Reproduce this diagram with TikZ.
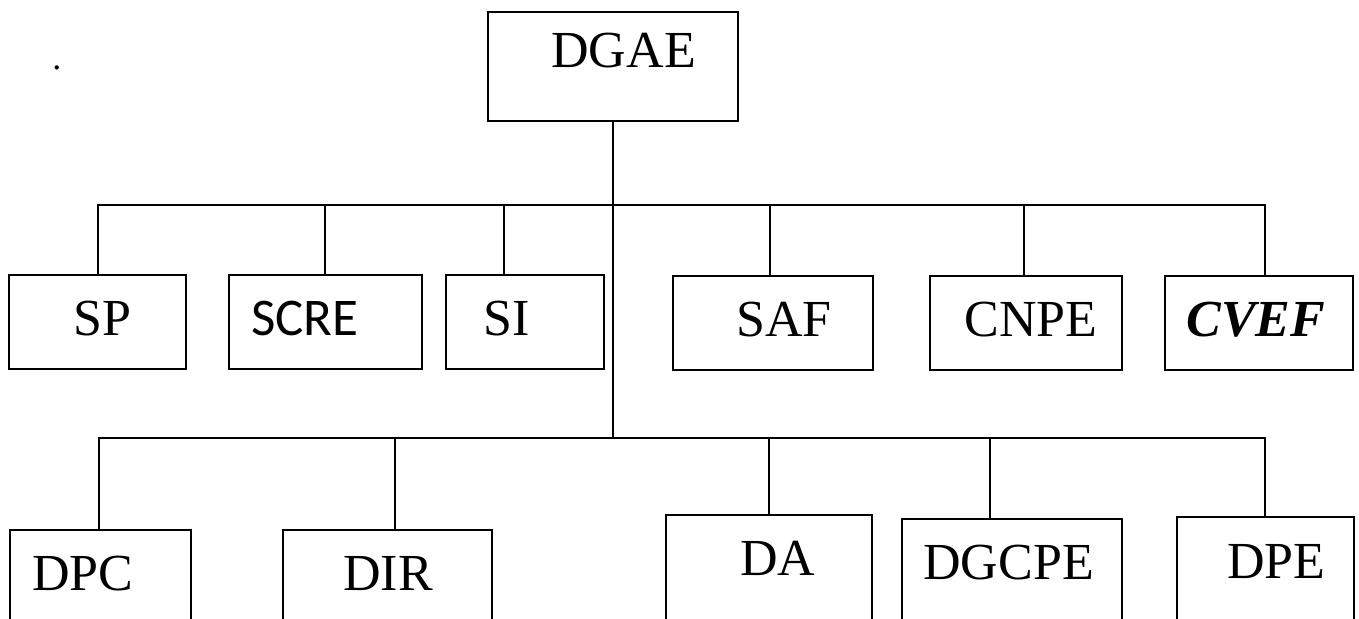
\documentclass[tikz,border=0pt]{standalone}
\usepackage{fontspec}
\setmainfont{Liberation Serif}
\newfontfamily\calibri{Carlito}
\usetikzlibrary{fit}
\tikzset{
	box/.style={draw, line width=1pt, inner sep=0pt},
	lbl/.style={anchor=base west, inner sep=0pt, font=\fontsize{26}{30}\selectfont},
	ln/.style={line width=1pt, line cap=rect},
}

\begin{document}
\begin{tikzpicture}[x=0.5pt, y=-0.5pt]
	\useasboundingbox (0,0) rectangle (1359,619);
	\clip (0,0) rectangle (1359,619);

	\node [lbl, font=\fontsize{18}{20}\selectfont] (dot) at (52,70) {.};

	% boxes
	\node [box, fit={(488,12) (738,121)}] (dgae) {};
	\node [box, fit={(9,275) (186,369)}] (sp) {};
	\node [box, fit={(229,275) (422,369)}] (scre) {};
	\node [box, fit={(446,275) (604,369)}] (si) {};
	\node [box, fit={(673,276) (873,370)}] (saf) {};
	\node [box, fit={(930,276) (1122,370)}] (cnpe) {};
	\node [box, fit={(1165,276) (1353,370)}] (cvef) {};
	\node [box, fit={(10,530) (191,640)}] (dpc) {};
	\node [box, fit={(283,530) (492,640)}] (dir) {};
	\node [box, fit={(666,515) (872,640)}] (da) {};
	\node [box, fit={(902,519) (1122,640)}] (dgcpe) {};
	\node [box, fit={(1177,517) (1354,640)}] (dpe) {};

	% labels
	\node [lbl] (dgae-t) at (551,68) {DGAE};
	\node [lbl] (sp-t) at (73,336) {SP};
	\node [lbl, font=\calibri\fontsize{26.5}{30}\selectfont] (scre-t) at (251,336) {SCRE};
	\node [lbl] (si-t) at (483,336) {SI};
	\node [lbl] (saf-t) at (736,337) {SAF};
	\node [lbl] (cnpe-t) at (964,337) {CNPE};
	\node [lbl, font=\fontsize{26}{30}\selectfont\bfseries\itshape] (cvef-t) at (1186,337) {CVEF};
	\node [lbl] (dpc-t) at (32,590) {DPC};
	\node [lbl] (dir-t) at (343,590) {DIR};
	\node [lbl] (da-t) at (740,575) {DA};
	\node [lbl] (dgcpe-t) at (923,579) {DGCPE};
	\node [lbl] (dpe-t) at (1227,578) {DPE};

	% buses
	\coordinate (ub-l) at (98,205);
	\coordinate (ub-r) at (1265,205);
	\coordinate (lb-l) at (99,438);
	\coordinate (lb-r) at (1265,438);
	\draw [ln] (ub-l) -- (ub-r);
	\draw [ln] (lb-l) -- (lb-r);
	\draw [ln] (dgae.south) -- (dgae.south |- lb-l);

	% drops
	\foreach \n/\x in {sp/98, scre/325, si/504, saf/770, cnpe/1024, cvef/1265}{
		\coordinate (u-\n) at (\x,205);
		\draw [ln] (u-\n) -- (u-\n |- \n.north);
	}
	\foreach \n/\x in {dpc/99, dir/395, da/769, dgcpe/990, dpe/1265}{
		\coordinate (l-\n) at (\x,438);
		\draw [ln] (l-\n) -- (l-\n |- \n.north);
	}
\end{tikzpicture}
\end{document}
